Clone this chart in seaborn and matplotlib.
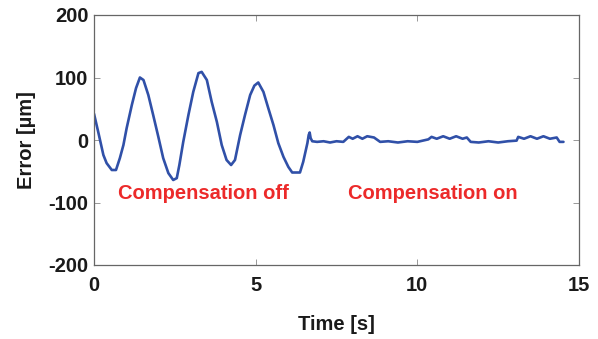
import matplotlib
matplotlib.use("Agg")
import matplotlib.pyplot as plt
import seaborn as sns
import pandas as pd

# ---- data ----
time_s = [
    0.00, 0.13, 0.29, 0.39, 0.55, 0.68, 0.80, 0.91, 1.01, 1.17, 1.30, 1.42, 1.53,
    1.68, 1.83, 1.99, 2.14, 2.30, 2.45, 2.56, 2.64, 2.76, 2.92, 3.07, 3.23, 3.33,
    3.49, 3.64, 3.80, 3.95, 4.10, 4.24, 4.36, 4.52, 4.67, 4.83, 4.96, 5.08, 5.24,
    5.39, 5.55, 5.70, 5.86, 6.01, 6.13, 6.37, 6.47, 6.60, 6.64, 6.67, 6.70, 6.75,
    6.90, 7.10, 7.30, 7.50, 7.71, 7.88, 8.00, 8.15, 8.30, 8.45, 8.66, 8.85, 9.10,
    9.40, 9.70, 10.00, 10.34, 10.44, 10.60, 10.80, 11.00, 11.20, 11.40, 11.53,
    11.65, 11.90, 12.20, 12.50, 12.80, 13.07, 13.12, 13.30, 13.50, 13.70, 13.90,
    14.10, 14.31, 14.40, 14.52,
]
error_um = [
    42, 13, -24, -37, -48, -48, -29, -8, 19, 56, 83, 100, 96,
    72, 40, 5, -29, -53, -64, -61, -40, -3, 40, 77, 107, 109,
    96, 61, 29, -8, -32, -40, -32, 8, 40, 72, 87, 92, 77,
    51, 24, -5, -27, -43, -52, -52, -35, -5, 8, 12, 3, -2,
    -3, -2, -4, -2, -3, 5, 2, 6, 2, 6, 4, -3, -2,
    -4, -2, -3, 1, 5, 2, 6, 2, 6, 2, 4,
    -3, -4, -2, -4, -2, -1, 5, 2, 6, 2, 6,
    2, 4, -3, -3,
]
x_ticks = [0, 5, 10, 15]
y_ticks = [-200, -100, 0, 100, 200]
annotations = ["Compensation off", "Compensation on"]
annot_x = [0.74, 7.86]
annot_y = [-85, -85]

df = pd.DataFrame({"Time": time_s, "Error": error_um})

sns.set_theme(style="white")
plt.rcParams["font.family"] = ["Liberation Sans", "DejaVu Sans"]
plt.rcParams["font.weight"] = "bold"

fig = plt.figure(figsize=(5.98, 3.39), dpi=100)
ax = fig.add_axes([94 / 598, 1 - 265 / 339, (579 - 94) / 598, (265 - 15) / 339])

sns.lineplot(data=df, x="Time", y="Error", ax=ax, color="#3050a8",
             linewidth=1.9, sort=False)

ax.set_xlim(0, 15)
ax.set_ylim(-200, 200)
ax.set_xticks(x_ticks)
ax.set_yticks(y_ticks)
ax.set_xticklabels([str(v) for v in x_ticks], fontsize=14.5, fontweight="bold",
                   color="#1a1a1a")
ax.set_yticklabels([str(v) for v in y_ticks], fontsize=14.5, fontweight="bold",
                   color="#1a1a1a")
ax.tick_params(direction="in", length=4, width=0.6, color="#888888",
               top=True, right=True, bottom=True, left=True, pad=4)
ax.tick_params(axis="x", pad=8)

for sp in ax.spines.values():
    sp.set_color("#666666")
    sp.set_linewidth(0.9)

ax.set_xlabel("Time [s]", fontsize=14.5, fontweight="bold", color="#1a1a1a",
              labelpad=14)
ax.set_ylabel("Error [µm]", fontsize=14.5, fontweight="bold", color="#1a1a1a",
              labelpad=9)

for txt, tx, ty in zip(annotations, annot_x, annot_y):
    ax.text(tx, ty, txt, color="#ec2a2a", fontsize=14.5, fontweight="bold",
            ha="left", va="center")

fig.savefig("out.png", dpi=100)
